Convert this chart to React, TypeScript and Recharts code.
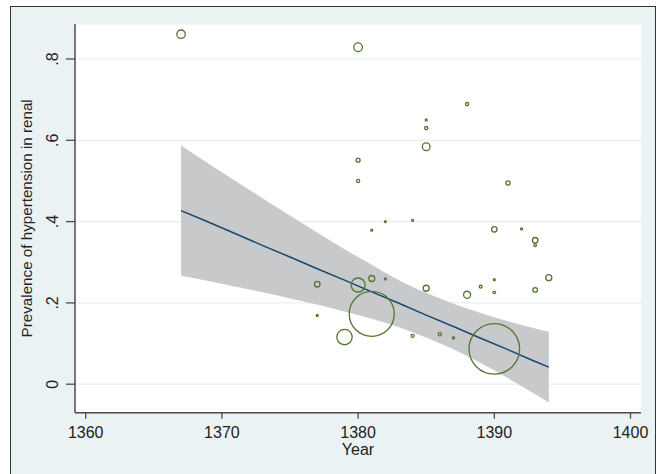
import React from 'react';
import { ComposedChart, Area, Line, Scatter, XAxis, YAxis, ZAxis, CartesianGrid, Label } from 'recharts';

// fitted line + 95% CI band
const bandYears = [1367, 1369, 1371, 1373, 1375, 1377, 1379, 1381, 1383, 1385, 1387, 1389, 1391, 1393, 1394];
const fitValues = [0.427, 0.399, 0.370, 0.341, 0.313, 0.284, 0.256, 0.227, 0.199, 0.170, 0.142, 0.113, 0.085, 0.056, 0.042];
const ciUpper = [0.587, 0.543, 0.500, 0.457, 0.415, 0.373, 0.332, 0.294, 0.256, 0.225, 0.198, 0.175, 0.155, 0.137, 0.129];
const ciLower = [0.267, 0.254, 0.240, 0.226, 0.211, 0.196, 0.179, 0.161, 0.140, 0.115, 0.086, 0.052, 0.015, -0.025, -0.045];

// study points (year, prevalence, weight)
const pointYears = [1367, 1380, 1388, 1385, 1385, 1385, 1380, 1380, 1391, 1381, 1382, 1384, 1390, 1392, 1393, 1393, 1394,
  1393, 1390, 1390, 1389, 1388, 1385, 1382, 1381, 1380, 1377, 1377, 1381, 1379, 1384, 1386, 1387, 1390];
const pointPrev = [0.861, 0.829, 0.689, 0.650, 0.630, 0.584, 0.551, 0.500, 0.495, 0.379, 0.400, 0.403, 0.381, 0.382, 0.354, 0.342, 0.262,
  0.232, 0.257, 0.226, 0.240, 0.220, 0.236, 0.259, 0.260, 0.244, 0.246, 0.169, 0.173, 0.116, 0.119, 0.123, 0.114, 0.087];
const pointWeight = [17.6, 18.5, 2.6, 1, 2.6, 15.2, 4, 2.6, 4.4, 1, 1, 1, 7.3, 1, 7.8, 1.7, 9,
  5.3, 1, 1.7, 2, 12.3, 9, 1, 9, 49, 7.8, 1, 506, 59, 2.3, 2.6, 1.4, 640];

const xTicks = [1360, 1370, 1380, 1390, 1400];
const yTicks = [0, 0.2, 0.4, 0.6, 0.8];
const yTickLabels = ['0', '.2', '.4', '.6', '.8'];

const bandData = bandYears.map((year, i) => ({ year, fit: fitValues[i], ci: [ciLower[i], ciUpper[i]] }));
const points = pointYears.map((year, i) => ({ year, prev: pointPrev[i], w: pointWeight[i] }));

const FONT = "'Liberation Sans', Arial, sans-serif";
const TEXT = '#222';
const AXIS = '#4d4d4d';

const YTick = (props: any) => {
  const { x, y, payload } = props;
  const idx = yTicks.indexOf(payload.value);
  const bx = x - 4.7;
  return (
    <text x={bx} y={y} transform={`rotate(-90 ${bx} ${y})`} textAnchor="middle"
      fontSize={16} fill={TEXT} fontFamily={FONT}>
      {idx >= 0 ? yTickLabels[idx] : payload.value}
    </text>
  );
};

const Bubble = (props: any) => {
  const r = props.width ? props.width / 2 : Math.sqrt((props.size || 0) / Math.PI);
  return <circle cx={props.cx} cy={props.cy} r={Math.max(r, 0.9)} fill="none" stroke="#55752f" strokeWidth={1.3} />;
};

const YearLabel = (props: any) => {
  const vb = props.viewBox;
  return (
    <text x={vb.x + vb.width / 2} y={vb.y + 42} textAnchor="middle" fontSize={16} fill={TEXT} fontFamily={FONT}>
      Year
    </text>
  );
};

const PrevLabel = (props: any) => {
  const vb = props.viewBox;
  const x = vb.x + 32.3;
  const y = vb.y + vb.height / 2;
  return (
    <text x={x} y={y} transform={`rotate(-90 ${x} ${y})`} textAnchor="middle" fontSize={15.2} fill={TEXT} fontFamily={FONT}>
      Prevalence of hypertension in renal
    </text>
  );
};

export default function App() {
  return (
    <div style={{ position: 'absolute', left: 0, top: 0, width: 660, height: 474, background: '#fff', overflow: 'hidden' }}>
      <div style={{ position: 'absolute', left: 10, top: 6, width: 644, height: 480, background: '#eaf2f3', border: '1.5px solid #333' }} />
      <div style={{ position: 'absolute', left: 0, top: 0 }}>
        <ComposedChart width={660} height={474} data={bandData} margin={{ top: 24, right: 19, bottom: 11.3, left: 0 }}>
          <CartesianGrid vertical={false} fill="#fff" stroke="#e6eff1" strokeWidth={1.2} />
          <XAxis type="number" dataKey="year" domain={[1359.214, 1400.77]} ticks={xTicks} allowDataOverflow
            height={50} tickSize={6} tickMargin={7.5}
            axisLine={{ stroke: AXIS, strokeWidth: 1.5 }} tickLine={{ stroke: AXIS, strokeWidth: 1.3 }}
            tick={{ fontSize: 16, fill: TEXT, fontFamily: FONT }}>
            <Label content={YearLabel} />
          </XAxis>
          <YAxis type="number" dataKey="prev" domain={[-0.0701, 0.8861]} ticks={yTicks} allowDataOverflow
            width={75} tickSize={9} tickMargin={3}
            axisLine={{ stroke: AXIS, strokeWidth: 1.5 }} tickLine={{ stroke: AXIS, strokeWidth: 1.3 }}
            tick={YTick}>
            <Label content={PrevLabel} />
          </YAxis>
          <ZAxis type="number" dataKey="w" domain={[0, 640]} range={[0, 2011]} />
          <Area dataKey="ci" type="monotone" fill="#c8c9cb" fillOpacity={1} stroke="none" isAnimationActive={false} />
          <Scatter data={points} shape={Bubble} isAnimationActive={false} />
          <Line dataKey="fit" type="linear" stroke="#1a476f" strokeWidth={1.5} dot={false} isAnimationActive={false} />
        </ComposedChart>
      </div>
    </div>
  );
}
